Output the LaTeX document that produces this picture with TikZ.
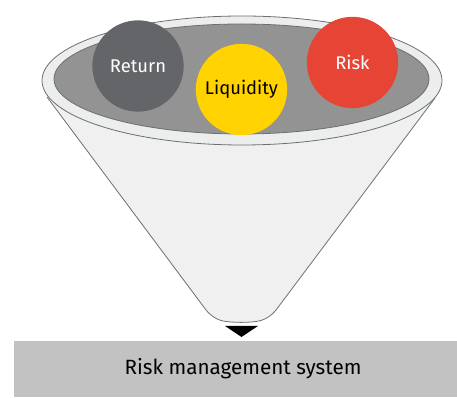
\documentclass[tikz,border=0pt]{standalone}
\usepackage{fontspec}
\setmainfont{Fira Sans}
\usetikzlibrary{positioning}
\definecolor{returngrey}{HTML}{646569}
\definecolor{liquidyellow}{HTML}{FFD200}
\definecolor{riskred}{HTML}{E64536}
\definecolor{bowlgrey}{HTML}{939394}
\definecolor{rimgrey}{HTML}{ECEDED}
\definecolor{conegrey}{HTML}{F0F0F0}
\definecolor{bargrey}{HTML}{C2C2C3}
\definecolor{edgegrey}{HTML}{6D6E71}
\tikzset{
  ball/.style={circle,minimum size=68.5pt,inner sep=0pt,font=\fontsize{13.8}{16}\selectfont},
  funneledge/.style={draw=edgegrey,line width=0.6pt}
}

\begin{document}
\begin{tikzpicture}[x=0.75pt,y=-0.75pt]
    \clip (0,0) rectangle (457,398);
    \draw[funneledge,fill=conegrey,rounded corners=7pt] (47,97) -- (212,318) .. controls (230,323) and (252,323) .. (270,318) -- (435,98);
    \draw[funneledge,fill=rimgrey] (242,80.5) ellipse [x radius=200,y radius=64.5];
    \draw[funneledge,fill=bowlgrey] (241.5,79) ellipse [x radius=187.5,y radius=55];
    \node[ball,fill=returngrey,text=white] (return) at (138,66) {Return};
    \node[ball,fill=liquidyellow,text=black] (liquidity) at (241.5,89.5) {Liquidity};
    \node[ball,fill=riskred,text=white] (risk) at (352.5,62.5) {Risk};
    \fill (225,326) -- (258,326) -- (241.5,337) -- cycle;
    \node[fill=bargrey,minimum width=343.5pt,minimum height=42pt,font=\fontsize{15.5}{18}\selectfont] (system) at (243,369) {Risk management system};
\end{tikzpicture}
\end{document}
